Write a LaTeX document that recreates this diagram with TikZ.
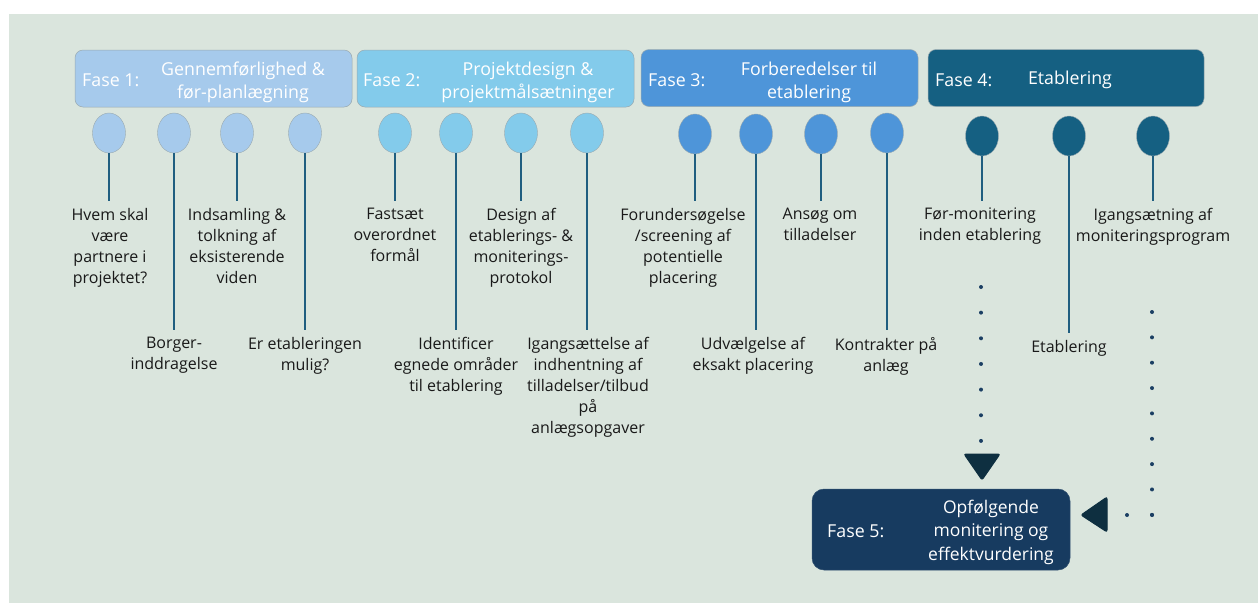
\documentclass[tikz,border=0pt]{standalone}
\usepackage{fontspec}
\setmainfont{Open Sans}
\usetikzlibrary{shapes.geometric}
\definecolor{bgc}{HTML}{DAE5DD}
\definecolor{pa}{HTML}{A6CAEC}
\definecolor{pb}{HTML}{83CBEB}
\definecolor{pc}{HTML}{4E95D9}
\definecolor{pd}{HTML}{156082}
\definecolor{pe}{HTML}{173B60}
\definecolor{stemc}{HTML}{1F5E80}
\definecolor{arrc}{HTML}{0E2F40}
\definecolor{dotc}{HTML}{1B3F63}
\definecolor{edgec}{HTML}{9AAAB0}
\tikzset{
  hdr/.style={rounded corners=8pt, draw=edgec, line width=0.5pt, minimum width=277pt, minimum height=57pt, inner sep=0pt},
  hfont/.style={font=\fontsize{17.8}{23}\selectfont, text=white, align=center, inner sep=0pt},
  bub/.style={ellipse, minimum width=33pt, minimum height=40pt, draw=edgec, line width=0.4pt, inner sep=0pt},
  stem/.style={draw=stemc, line width=1.5pt, shorten >=7pt},
  lbl/.style={align=center, font=\fontsize{16}{21}\selectfont, inner sep=0pt, text=black!90, anchor=north},
  dotline/.style={draw=dotc, line width=4pt, line cap=round, dash pattern=on 0pt off #1},
  arrowtri/.style={fill=arrc, draw=arrc, line width=1pt, rounded corners=2pt}
}
\begin{document}
\begin{tikzpicture}[x=1pt,y=-1pt]
\useasboundingbox (0,0) rectangle (1258,603);
\fill[white] (0,0) rectangle (1258,603);
\fill[bgc] (9,14) rectangle (1258,603);

% header boxes
\node[hdr, fill=pa] (h1) at (213.5,78.5) {};
\node[hdr, fill=pb] (h2) at (495.5,78.5) {};
\node[hdr, fill=pc] (h3) at (779.5,78) {};
\node[hdr, fill=pd, minimum width=276pt] (h4) at (1066,78) {};

\node[hfont, anchor=west] (f1) at (82,80) {Fase 1:};
\node[hfont] (g1) at (243,82) {Gennemførlighed \&\\før-planlægning};
\node[hfont, anchor=west] (f2) at (363,80) {Fase 2:};
\node[hfont] (g2) at (528,82) {Projektdesign \&\\projektmålsætninger};
\node[hfont, anchor=west] (f3) at (648,80) {Fase 3:};
\node[hfont] (g3) at (809,82) {Forberedelser til\\etablering};
\node[hfont, anchor=west] (f4) at (935,80) {Fase 4:};
\node[hfont] (g4) at (1070,80) {Etablering};

% bubbles
\node[bub, fill=pa] (e1) at (109,133) {};
\node[bub, fill=pa] (e2) at (174,133) {};
\node[bub, fill=pa] (e3) at (237,133) {};
\node[bub, fill=pa] (e4) at (305,133) {};
\node[bub, fill=pb] (e5) at (395,133) {};
\node[bub, fill=pb] (e6) at (456,133) {};
\node[bub, fill=pb] (e7) at (521,133) {};
\node[bub, fill=pb] (e8) at (587,133) {};
\node[bub, fill=pc] (e9) at (695,134) {};
\node[bub, fill=pc] (e10) at (756,134) {};
\node[bub, fill=pc] (e11) at (821,134) {};
\node[bub, fill=pc] (e12) at (887,133) {};
\node[bub, fill=pd] (e13) at (982,136) {};
\node[bub, fill=pd] (e14) at (1069,136) {};
\node[bub, fill=pd] (e15) at (1153,136) {};

% labels
\node[lbl] (t1) at (110,208) {Hvem skal\\være\\partnere i\\projektet?};
\node[lbl] (t2) at (174,337) {Borger-\\inddragelse};
\node[lbl] (t3) at (237,208) {Indsamling \&\\tolkning af\\eksisterende\\viden};
\node[lbl] (t4) at (305,337) {Er etableringen\\mulig?};
\node[lbl] (t5) at (395,208) {Fastsæt\\overordnet\\formål};
\node[lbl] (t6) at (456,337) {Identificer\\egnede områder\\til etablering};
\node[lbl] (t7) at (521,208) {Design af\\etablerings- \&\\moniterings-\\protokol};
\node[lbl] (t8) at (588,337) {Igangsættelse af\\indhentning af\\tilladelser/tilbud\\på\\anlægsopgaver};
\node[lbl] (t9) at (683,208) {Forundersøgelse\\/screening af\\potentielle\\placering};
\node[lbl] (t10) at (753,337) {Udvælgelse af\\eksakt placering};
\node[lbl] (t11) at (820,208) {Ansøg om\\tilladelser};
\node[lbl] (t12) at (886,337) {Kontrakter på\\anlæg};
\node[lbl] (t13) at (980,208) {Før-monitering\\inden etablering};
\node[lbl] (t14) at (1069,340) {Etablering};
\node[lbl] (t15) at (1153,208) {Igangsætning af\\moniteringsprogram};

% stems
\foreach \i in {1,...,15}{
  \draw[stem] (e\i.south) -- (e\i.south |- t\i.north);
}

% phase 5
\node[hdr, fill=pe, draw=pe!80!edgec, minimum width=258pt, minimum height=81pt, rounded corners=12pt] (h5) at (941,529.5) {};
\node[hfont, anchor=west] (f5) at (827,531) {Fase 5:};
\node[hfont, font=\fontsize{17.5}{23.5}\selectfont] (g5) at (991,532) {Opfølgende\\monitering og\\effektvurdering};

% dotted connectors and arrowheads
\coordinate (d1s) at (981,287);
\coordinate (d1e) at (981,441);
\draw[dotline=25.65pt] (d1s) -- (d1e);
\draw[arrowtri] (964,454) -- (1000,454) -- (982,480) -- cycle;

\coordinate (d2s) at (1152,312);
\coordinate (d2c) at (1152,515);
\coordinate (d2e) at (1127,515);
\draw[dotline=25.35pt] (d2s) -- (d2c);
\draw[dotline=25pt] (d2c) -- (d2e);
\draw[arrowtri] (1107,497) -- (1107,532) -- (1081,515) -- cycle;
\end{tikzpicture}
\end{document}
